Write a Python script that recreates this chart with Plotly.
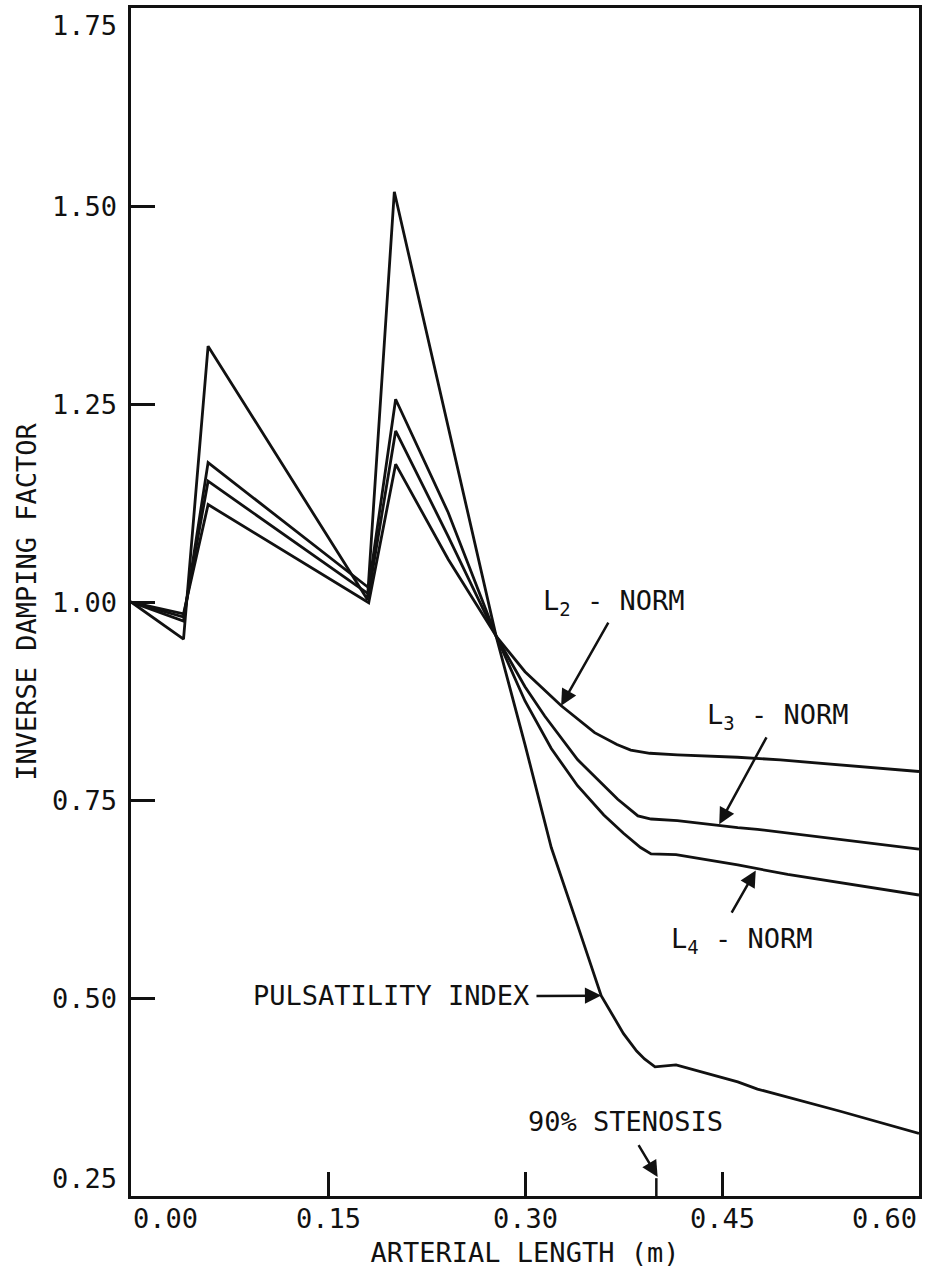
import plotly.graph_objects as go

# ---------------- data ----------------
pi_x = [0.0, 0.040, 0.0587, 0.180, 0.2005, 0.278, 0.300, 0.320, 0.340, 0.358, 0.375, 0.385, 0.391, 0.399, 0.415, 0.462, 0.477, 0.540, 0.600]
pi_y = [1.00, 0.953, 1.323, 1.003, 1.518, 0.957, 0.820, 0.690, 0.592, 0.503, 0.455, 0.433, 0.423, 0.413, 0.4155, 0.394, 0.385, 0.357, 0.329]

l2_x = [0.0, 0.040, 0.0587, 0.181, 0.2015, 0.2415, 0.278, 0.300, 0.3276, 0.353, 0.370, 0.3805, 0.395, 0.416, 0.4618, 0.4944, 0.600]
l2_y = [1.00, 0.985, 1.123, 0.999, 1.174, 1.054, 0.957, 0.912, 0.869, 0.835, 0.820, 0.813, 0.809, 0.807, 0.804, 0.8006, 0.786]

l3_x = [0.0, 0.040, 0.0587, 0.181, 0.2015, 0.2415, 0.278, 0.300, 0.315, 0.340, 0.3706, 0.386, 0.396, 0.416, 0.462, 0.477, 0.600]
l3_y = [1.00, 0.981, 1.1525, 1.010, 1.216, 1.083, 0.957, 0.893, 0.856, 0.801, 0.751, 0.730, 0.726, 0.724, 0.715, 0.713, 0.688]

l4_x = [0.0, 0.040, 0.0587, 0.181, 0.2015, 0.2415, 0.278, 0.300, 0.320, 0.340, 0.360, 0.375, 0.388, 0.396, 0.415, 0.462, 0.500, 0.600]
l4_y = [1.00, 0.976, 1.176, 1.018, 1.256, 1.113, 0.957, 0.875, 0.815, 0.768, 0.731, 0.708, 0.690, 0.682, 0.681, 0.668, 0.656, 0.630]

stenosis_x = 0.40

x_tick_vals = [0.00, 0.15, 0.30, 0.45, 0.60]
x_tick_text = ["0.00", "0.15", "0.30", "0.45", "0.60"]
y_tick_vals = [0.25, 0.50, 0.75, 1.00, 1.25, 1.50, 1.75]
y_tick_text = ["0.25", "0.50", "0.75", "1.00", "1.25", "1.50", "1.75"]

x_title = "ARTERIAL LENGTH (m)"
y_title = "INVERSE DAMPING FACTOR"

# ---------------- figure ----------------
FONT = "DejaVu Sans Mono"
INK = "#111111"
fig = go.Figure()
for xs, ys in [(pi_x, pi_y), (l2_x, l2_y), (l3_x, l3_y), (l4_x, l4_y)]:
    fig.add_trace(go.Scatter(x=xs, y=ys, mode="lines",
                             line=dict(color=INK, width=2.8), showlegend=False,
                             hoverinfo="skip"))

fig.update_layout(
    width=926, height=1281,
    margin=dict(l=131, r=4, t=8, b=85),
    paper_bgcolor="white", plot_bgcolor="white",
    font=dict(family=FONT, size=27, color=INK),
    showlegend=False,
)
fig.update_xaxes(range=[0, 0.6], showgrid=False, zeroline=False,
                 showline=True, linecolor=INK, linewidth=3, mirror=True,
                 tickvals=x_tick_vals[1:-1], ticks="inside", ticklen=24,
                 tickwidth=2.5, tickcolor=INK, showticklabels=False,
                 title=dict(text=x_title, font=dict(size=27), standoff=46))
fig.update_yaxes(range=[0.25, 1.75], showgrid=False, zeroline=False,
                 showline=True, linecolor=INK, linewidth=3, mirror=True,
                 tickvals=y_tick_vals[1:-1], ticks="inside", ticklen=24,
                 tickwidth=2.5, tickcolor=INK, showticklabels=False,
                 title=dict(text=y_title, font=dict(size=27), standoff=84))

# stenosis tick (shorter)
fig.add_shape(type="line", xref="x", yref="y domain", x0=stenosis_x, x1=stenosis_x,
              y0=0, y1=0.015, line=dict(color=INK, width=2.5))

# x tick labels
x_anchors = ["left", "center", "center", "center", "right"]
for v, t, a in zip(x_tick_vals, x_tick_text, x_anchors):
    fig.add_annotation(x=v, y=0, xref="x", yref="paper", text=t, showarrow=False,
                       xanchor=a, yanchor="top", yshift=-5, font=dict(size=27))

# y tick labels
y_anchors = ["bottom", "middle", "middle", "middle", "middle", "middle", "top"]
for v, t, a in zip(y_tick_vals, y_tick_text, y_anchors):
    fig.add_annotation(x=0, y=v, xref="paper", yref="y", text=t, showarrow=False,
                       xanchor="right", yanchor=a, xshift=-12, font=dict(size=27))

# text labels
labels = [
    ("L<sub>2</sub> - NORM", 0.312, 1.000, "left"),
    ("L<sub>3</sub> - NORM", 0.4367, 0.856, "left"),
    ("L<sub>4</sub> - NORM", 0.4094, 0.572, "left"),
    ("PULSATILITY INDEX", 0.3046, 0.503, "right"),
    ("90% STENOSIS", 0.3767, 0.344, "center"),
]
for t, x, y, a in labels:
    fig.add_annotation(x=x, y=y, xref="x", yref="y", text=t, showarrow=False,
                       xanchor=a, yanchor="middle", font=dict(size=27))

# arrows (tip, tail)
arrows = [
    (0.3275, 0.869, 0.3641, 0.976),
    (0.4479, 0.7195, 0.4845, 0.831),
    (0.4757, 0.661, 0.4567, 0.606),
    (0.358, 0.503, 0.3076, 0.5026),
    (0.401, 0.274, 0.3858, 0.316),
]
for x, y, ax, ay in arrows:
    fig.add_annotation(x=x, y=y, ax=ax, ay=ay, xref="x", yref="y", axref="x", ayref="y",
                       text="", showarrow=True, arrowhead=2, arrowsize=1.3,
                       arrowwidth=2.5, arrowcolor=INK)

fig.write_html("out.html", config={"displayModeBar": False},
               post_script="document.body.style.margin='0';document.body.style.overflow='hidden';")
